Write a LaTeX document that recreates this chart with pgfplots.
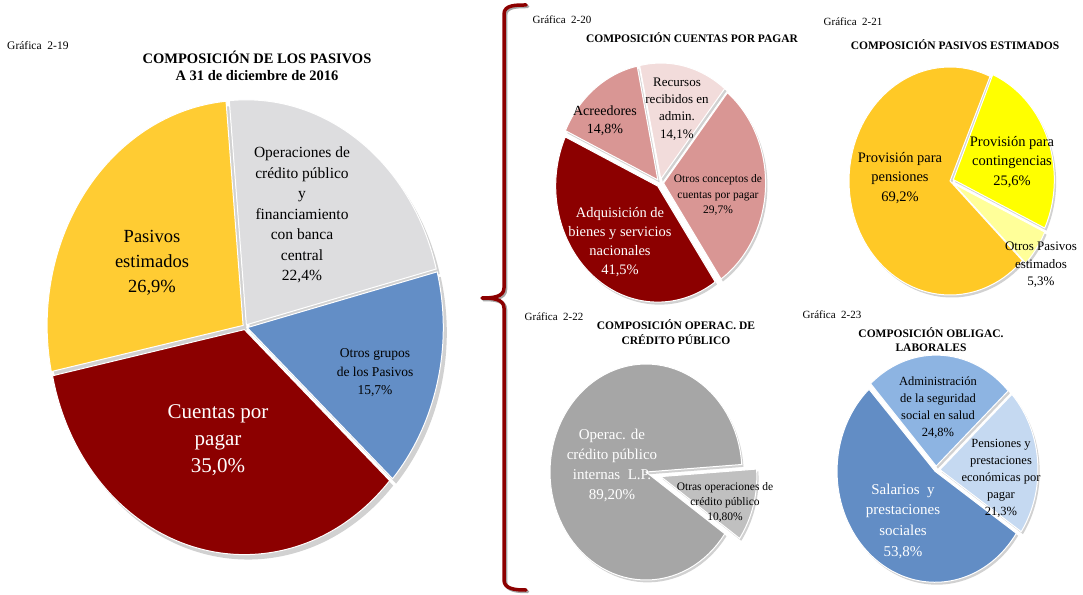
\documentclass[border=0pt]{standalone}
\usepackage{pgfplots}
\pgfplotsset{compat=1.18}
\usepackage{fontspec}
\setmainfont{Liberation Serif}

\definecolor{cyel}{RGB}{255,204,51}
\definecolor{cgray}{RGB}{221,221,223}
\definecolor{cblue}{RGB}{99,142,198}
\definecolor{cred}{RGB}{140,0,0}
\definecolor{cpink}{RGB}{217,150,148}
\definecolor{clpink}{RGB}{242,220,219}
\definecolor{cyelB}{RGB}{255,201,38}
\definecolor{cyelC}{RGB}{255,255,0}
\definecolor{cyelD}{RGB}{255,255,153}
\definecolor{cgA}{RGB}{166,166,166}
\definecolor{cgB}{RGB}{192,192,192}
\definecolor{cbA}{RGB}{98,141,197}
\definecolor{cbB}{RGB}{141,180,226}
\definecolor{cbC}{RGB}{197,217,241}

\newcommand{\fs}[2]{\fontsize{#1bp}{#2bp}\selectfont}
\newcommand{\piestart}[1]{\xdef\curang{#1}}
% shadow of a slice: percentage, explode
\newcommand{\pshadow}[2]{%
  \pgfmathsetmacro{\psEnd}{\curang-3.6*#1}%
  \pgfmathsetmacro{\psMid}{\curang-1.8*#1}%
  \pgfmathsetmacro{\psX}{#2*cos(\psMid)+0.018}%
  \pgfmathsetmacro{\psY}{#2*sin(\psMid)-0.022}%
  \edef\psDo{\noexpand\addplot[draw=none, fill=black, fill opacity=0.18, domain=\psEnd:\curang, samples=90] ({\psX+cos(x)},{\psY+sin(x)}) -- (axis cs:\psX,\psY) -- cycle;}%
  \psDo
  \xdef\curang{\psEnd}}
% slice: percentage, colour, explode
\newcommand{\pslice}[3]{%
  \pgfmathsetmacro{\psEnd}{\curang-3.6*#1}%
  \pgfmathsetmacro{\psMid}{\curang-1.8*#1}%
  \pgfmathsetmacro{\psX}{#3*cos(\psMid)}%
  \pgfmathsetmacro{\psY}{#3*sin(\psMid)}%
  \edef\psDo{\noexpand\addplot[draw=white, line width=1bp, fill=#2, domain=\psEnd:\curang, samples=90] ({\psX+cos(x)},{\psY+sin(x)}) -- (axis cs:\psX,\psY) -- cycle;}%
  \psDo
  \xdef\curang{\psEnd}}

\pgfplotsset{pie/.style={hide axis, scale only axis, xmin=-1, xmax=1, ymin=-1, ymax=1, clip=false, anchor=center}}

\begin{document}
\begin{tikzpicture}[x=1bp,y=-1bp]
\useasboundingbox (0,0) rectangle (1083,595);

% ---------- Gráfica 2-19 ----------
\begin{axis}[pie, at={(245bp,-327bp)}, width=392bp, height=450bp]
\piestart{95}
\pshadow{22.4}{0.012}\pshadow{15.7}{0.012}\pshadow{35.0}{0.012}\pshadow{26.9}{0.012}
\piestart{95}
\pslice{22.4}{cgray}{0.012}\pslice{15.7}{cblue}{0.012}\pslice{35.0}{cred}{0.012}\pslice{26.9}{cyel}{0.012}
\end{axis}

% ---------- Gráfica 2-20 ----------
\begin{axis}[pie, at={(660bp,-183bp)}, width=204bp, height=232bp]
\piestart{102}
\pshadow{14.1}{0.035}\pshadow{29.7}{0.035}\pshadow{41.5}{0.035}\pshadow{14.8}{0.035}
\piestart{102}
\pslice{14.1}{clpink}{0.035}\pslice{29.7}{cpink}{0.035}\pslice{41.5}{cred}{0.035}\pslice{14.8}{cpink}{0.035}
\end{axis}

% ---------- Gráfica 2-21 ----------
\begin{axis}[pie, at={(950bp,-181bp)}, width=202bp, height=228bp]
\piestart{67}
\pshadow{25.6}{0.035}\pshadow{5.3}{0.04}\pshadow{69.2}{0.0}
\piestart{67}
\pslice{25.6}{cyelC}{0.035}\pslice{5.3}{cyelD}{0.04}\pslice{69.2}{cyelB}{0.0}
\end{axis}

% ---------- Gráfica 2-22 ----------
\begin{axis}[pie, at={(646bp,-472bp)}, width=192bp, height=216bp]
\piestart{4}
\pshadow{10.8}{0.16}\pshadow{89.2}{0.0}
\piestart{4}
\pslice{10.8}{cgB}{0.16}\pslice{89.2}{cgA}{0.0}
\end{axis}

% ---------- Gráfica 2-23 ----------
\begin{axis}[pie, at={(936bp,-470bp)}, width=196bp, height=222bp]
\piestart{132}
\pshadow{24.8}{0.035}\pshadow{21.3}{0.04}\pshadow{53.8}{0.015}
\piestart{132}
\pslice{24.8}{cbB}{0.035}\pslice{21.3}{cbC}{0.04}\pslice{53.8}{cbA}{0.015}
\end{axis}

% ---------- brace ----------
\draw[black!35, line width=3.5bp, line cap=round, shift={(1.5,1.5)}]
  (526,5) to[out=180,in=90] (504,14) -- (504,288) to[out=-90,in=0] (482,298)
  (482,298) to[out=0,in=90] (504,308) -- (504,580) to[out=-90,in=180] (526,590);
\draw[cred, line width=3.5bp, line cap=round]
  (526,5) to[out=180,in=90] (504,14) -- (504,288) to[out=-90,in=0] (482,298)
  (482,298) to[out=0,in=90] (504,308) -- (504,580) to[out=-90,in=180] (526,590);

% ---------- titles ----------
\begin{scope}[every node/.style={inner sep=0pt, align=center}]
\node[anchor=west, font=\fs{11.5}{13}] at (7,46) {Gráfica\ \ 2-19};
\node[font=\fs{14.5}{16.5}\bfseries] at (257,66) {COMPOSICIÓN DE LOS PASIVOS\\ A 31 de diciembre de 2016};

\node[font=\fs{11}{13}] at (562,20) {Gráfica\ \ 2-20};
\node[font=\fs{11.5}{13}\bfseries] at (692,38) {COMPOSICIÓN CUENTAS POR PAGAR};

\node[font=\fs{11}{13}] at (853,22) {Gráfica\ \ 2-21};
\node[font=\fs{11.5}{13}\bfseries] at (955,45) {COMPOSICIÓN PASIVOS ESTIMADOS};

\node[font=\fs{11}{13}] at (554,317) {Gráfica\ \ 2-22};
\node[font=\fs{11.5}{15.5}\bfseries] at (676,332) {COMPOSICIÓN OPERAC. DE\\ CRÉDITO PÚBLICO};

\node[font=\fs{11}{13}] at (832,315) {Gráfica\ \ 2-23};
\node[font=\fs{11.5}{14}\bfseries] at (931,340) {COMPOSICIÓN OBLIGAC.\\ LABORALES};

% ---------- labels main ----------
\node[font=\fs{18.5}{25}] at (152,263) {Pasivos\\ estimados\\ 26,9\%};
\node[font=\fs{15.5}{20.5}] at (302,215) {Operaciones de\\ crédito público\\ y\\ financiamiento\\ con banca\\ central\\ 22,4\%};
\node[font=\fs{13.5}{18.5}] at (375,373) {Otros grupos\\ de los Pasivos\\ 15,7\%};
\node[text=white, font=\fs{21}{27}] at (218,440) {Cuentas por\\ pagar\\ 35,0\%};

% ---------- labels 2-20 ----------
\node[font=\fs{14}{18}] at (605,121) {Acreedores\\ 14,8\%};
\node[font=\fs{13}{17.3}] at (677,109) {Recursos\\ recibidos en\\ admin.\\ 14,1\%};
\node[font=\fs{11.5}{15.5}] at (718,195) {Otros conceptos de\\ cuentas por pagar\\ 29,7\%};
\node[text=white, font=\fs{14.5}{19}] at (620,242) {Adquisición de\\ bienes y servicios\\ nacionales\\ 41,5\%};

% ---------- labels 2-21 ----------
\node[font=\fs{14.5}{19.5}] at (900,178) {Provisión para\\ pensiones\\ 69,2\%};
\node[font=\fs{14.5}{19.5}] at (1012,162) {Provisión para\\ contingencias\\ 25,6\%};
\node[font=\fs{13}{17.5}] at (1041,265) {Otros Pasivos\\ estimados\\ 5,3\%};

% ---------- labels 2-22 ----------
\node[text=white, font=\fs{15}{20}] at (612,465) {Operac. de\\ crédito público\\ internas\ \ L.P.\\ 89,20\%};
\node[font=\fs{11.5}{15}] at (725,502) {Otras operaciones de\\ crédito público\\ 10,80\%};

% ---------- labels 2-23 ----------
\node[font=\fs{12.5}{17}] at (938,408) {Administración\\ de la seguridad\\ social en salud\\ 24,8\%};
\node[font=\fs{12.5}{17}] at (1001,478) {Pensiones y\\ prestaciones\\ económicas por\\ pagar\\ 21,3\%};
\node[text=white, font=\fs{15}{20.7}] at (903,521) {Salarios\ \ y\\ prestaciones\\ sociales\\ 53,8\%};
\end{scope}
\end{tikzpicture}
\end{document}
